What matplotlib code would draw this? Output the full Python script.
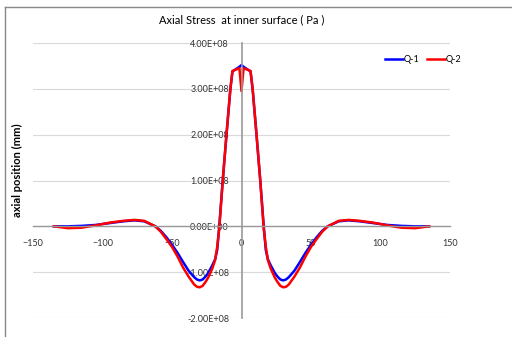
import numpy as np
import matplotlib
matplotlib.use("Agg")
import matplotlib.pyplot as plt
from matplotlib.lines import Line2D
from matplotlib.ticker import FuncFormatter

# axial position (mm)
x_pos = [-135, -125, -115, -105, -95, -85, -77, -70, -62, -58, -54, -50, -46, -42, -38, -34,
         -32, -30, -28, -26, -24, -21, -19, -17.5, -16, -13.5, -10.8, -8, -6.5, -4, -1.5, 0,
         1.5, 4, 6.5, 8, 10.8, 13.5, 16, 17.5, 19, 21, 24, 26, 28, 30, 32,
         34, 38, 42, 46, 50, 54, 58, 62, 70, 77, 85, 95, 105, 115, 125, 135]

# axial stress, Q-1 (x 1e8 Pa)
q1 = [0.0, 0.0, 0.01, 0.03, 0.07, 0.11, 0.13, 0.11, 0.0, -0.1, -0.24, -0.4, -0.58, -0.78, -0.97, -1.11,
      -1.16, -1.18, -1.16, -1.1, -1.02, -0.85, -0.72, -0.52, 0.0, 1.0, 2.0, 3.0, 3.38, 3.43, 3.48, 3.52,
      3.48, 3.43, 3.38, 3.0, 2.0, 1.0, 0.0, -0.52, -0.72, -0.85, -1.02, -1.1, -1.16, -1.18, -1.16,
      -1.11, -0.97, -0.78, -0.58, -0.4, -0.24, -0.1, 0.0, 0.11, 0.13, 0.11, 0.07, 0.03, 0.01, 0.0, 0.0]

# axial stress, Q-2 (x 1e8 Pa)
q2 = [0.0, -0.04, -0.03, 0.02, 0.08, 0.12, 0.14, 0.12, 0.0, -0.12, -0.28, -0.45, -0.66, -0.9, -1.1, -1.27,
      -1.32, -1.33, -1.3, -1.22, -1.12, -0.92, -0.74, -0.45, -0.05, 1.0, 2.0, 3.0, 3.39, 3.42, 3.45, 2.95,
      3.45, 3.42, 3.39, 3.0, 2.0, 1.0, -0.05, -0.45, -0.74, -0.92, -1.12, -1.22, -1.3, -1.33, -1.32,
      -1.27, -1.1, -0.9, -0.66, -0.45, -0.28, -0.12, 0.0, 0.12, 0.14, 0.12, 0.08, 0.02, -0.03, -0.04, 0.0]

x_ticks = [-150, -100, -50, 0, 50, 100, 150]
y_ticks = [-2e8, -1e8, 0, 1e8, 2e8, 3e8, 4e8]

plt.rcParams['font.family'] = ['Lato', 'DejaVu Sans']

fig = plt.figure(figsize=(5.12, 3.37), dpi=100)
ax = fig.add_axes([33/512, 1-318/337, (450-33)/512, (318-43)/337])

ax.plot(x_pos, np.array(q1)*1e8, color='#0000ff', lw=1.8, label='Q-1', solid_joinstyle='round')
ax.plot(x_pos, np.array(q2)*1e8, color='#ff0000', lw=1.8, label='Q-2', solid_joinstyle='round')

ax.set_xlim(-150, 150)
ax.set_ylim(-2e8, 4e8)
ax.set_xticks(x_ticks)
ax.set_yticks(y_ticks)
ax.yaxis.set_major_formatter(FuncFormatter(lambda v, p: '%.2E' % v))
ax.grid(axis='y', color='#d9d9d9', lw=0.8)
ax.set_axisbelow(True)

for s in ['top', 'right']:
    ax.spines[s].set_visible(False)
ax.spines['left'].set_position(('data', 0))
ax.spines['bottom'].set_position(('data', 0))
ax.spines['left'].set_color('#999999')
ax.spines['bottom'].set_color('#999999')
ax.spines['left'].set_linewidth(1.2)
ax.spines['bottom'].set_linewidth(1.0)
ax.tick_params(axis='both', length=0, labelsize=6.5, colors='#333333')
ax.tick_params(axis='y', pad=9)
ax.tick_params(axis='x', pad=9)

ax.set_title('Axial Stress  at inner surface ( Pa )', fontsize=8, pad=14)
fig.text(17/512, 1-170/337, 'axial position (mm)', rotation=90, ha='center', va='center',
         fontsize=8, fontweight='bold')

ax.legend(loc='center', bbox_to_anchor=(423/512, 1-60/337), bbox_transform=fig.transFigure,
          ncol=2, frameon=False, fontsize=6.5, handlelength=2.0, handletextpad=0.1,
          columnspacing=0.8)

# chart area border
fig.add_artist(Line2D([5/512, 5/512], [0, 1-7/337], transform=fig.transFigure, color='#888888', lw=1))
fig.add_artist(Line2D([5/512, 1], [1-7/337, 1-7/337], transform=fig.transFigure, color='#888888', lw=1))

fig.savefig('out.png', dpi=100)
